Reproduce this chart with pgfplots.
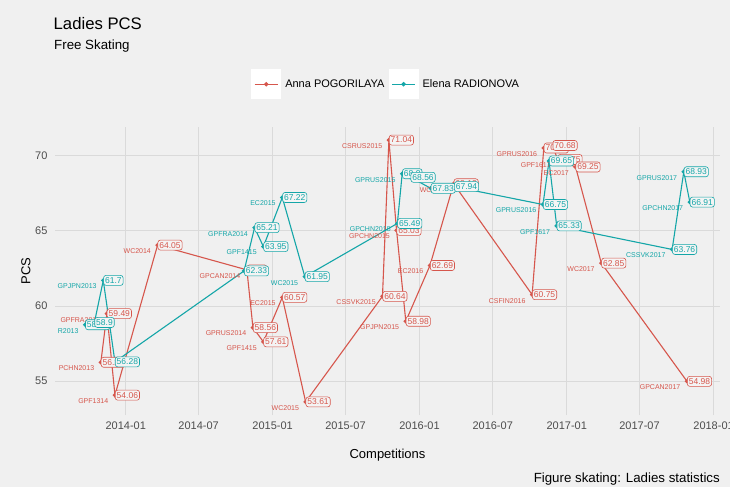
\documentclass[border=0pt]{standalone}
\usepackage{pgfplots}
\pgfplotsset{compat=1.18}
\usepackage{pgfplotstable}
\usepackage{fontspec}
\setmainfont{Liberation Sans}

\definecolor{bgc}{HTML}{F0F0F0}
\definecolor{gridc}{HTML}{DADADA}
\definecolor{boxc}{HTML}{F4F4F4}
\definecolor{anna}{HTML}{D6564C}
\definecolor{elena}{HTML}{14A6A8}
\definecolor{ticktxt}{HTML}{4D4D4D}

% d = days since 2014-01-01, pcs = free skating PCS
\pgfplotstableread{
d pcs name
-62 56.25 PCHN2013
-47 59.49 GPFRA2013
-27 54.06 GPF1314
79 64.05 WC2014
301 62.40 GPCAN2014
316 58.56 GPRUS2014
342 57.61 GPF1415
389 60.57 EC2015
447 53.61 WC2015
638 60.64 CSSVK2015
654 71.04 CSRUS2015
673 65.03 GPCHN2015
696 58.98 GPJPN2015
756 62.69 EC2016
815 68.13 WC2016
1010 60.75 CSFIN2016
1039 70.51 GPRUS2016
1061 70.68 {}
1073 69.75 GPF1617
1118 69.25 EC2017
1182 62.85 WC2017
1395 54.98 GPCAN2017
}\annadata

\pgfplotstableread{
d pcs name
-101 58.75 R2013
-78 58.90 {}
-56 61.70 GPJPN2013
-27 56.28 {}
294 62.33 {}
320 65.21 GPFRA2014
342 63.95 GPF1415
389 67.22 EC2015
445 61.95 WC2015
675 65.49 GPCHN2015
687 68.80 GPRUS2015
708 68.56 {}
758 67.83 {}
816 67.94 {}
1037 66.75 GPRUS2016
1052 69.65 {}
1071 65.33 GPF1617
1358 63.76 CSSVK2017
1387 68.93 GPRUS2017
1402 66.91 GPCHN2017
}\elenadata

\begin{document}
\begin{tikzpicture}
\fill[bgc] (-55pt,-72pt) rectangle (675pt,415pt);
\begin{axis}[
    scale only axis, width=665pt, height=288pt,
    xmin=-176, xmax=1477,
    ymin=52.74, ymax=71.91,
    xtick={0,181,365,546,730,912,1096,1277,1461},
    xticklabels={2014-01,2014-07,2015-01,2015-07,2016-01,2016-07,2017-01,2017-07,2018-01},
    ytick={55,60,65,70},
    grid=major,
    major grid style={draw=gridc, line width=0.7pt},
    axis line style={draw=none},
    major tick style={draw=none},
    tick label style={font=\fontsize{11}{13}\selectfont, text=ticktxt},
    /pgf/number format/assume math mode=true,
    yticklabel style={xshift=-4pt},
    xticklabel style={yshift=-3pt},
    legend columns=2,
    legend cell align=left,
    legend style={at={(axis description cs:0.2947,1.1486)}, anchor=west,
        draw=none, fill=none, inner sep=0pt,
        font=\fontsize{11}{13}\selectfont,
        /tikz/column sep=4pt, nodes={inner sep=0pt}},
    legend image code/.code={
        \fill[white] (0pt,-14.5pt) rectangle (29pt,14.5pt);
        \draw[mark repeat=2,mark phase=2,#1] plot coordinates {(3pt,0pt) (14.5pt,0pt) (26pt,0pt)};
    },
]

\addplot[anna, line width=1.1pt, mark=*, mark size=1.6pt] table[x=d, y=pcs] {\annadata};
\addlegendentry{Anna POGORILAYA}
\addplot[elena, line width=1.1pt, mark=*, mark size=1.6pt] table[x=d, y=pcs] {\elenadata};
\addlegendentry{Elena RADIONOVA}

% competition names
\addplot[draw=none, forget plot, nodes near coords, point meta=explicit symbolic,
    nodes near coords style={anchor=east, xshift=-6pt, yshift=-6pt, inner sep=0.5pt,
        font=\fontsize{7}{8}\selectfont, text=anna}]
    table[x=d, y=pcs, meta=name] {\annadata};
\addplot[draw=none, forget plot, nodes near coords, point meta=explicit symbolic,
    nodes near coords style={anchor=east, xshift=-6pt, yshift=-6pt, inner sep=0.5pt,
        font=\fontsize{7}{8}\selectfont, text=elena}]
    table[x=d, y=pcs, meta=name] {\elenadata};

% value labels
\addplot[draw=none, forget plot, nodes near coords,
    nodes near coords style={anchor=west, draw=anna, fill=boxc, text=anna,
        rounded corners=2.5pt, line width=0.6pt, inner xsep=1.5pt, inner ysep=2pt,
        font=\fontsize{8.5}{9}\selectfont}]
    table[x=d, y=pcs] {\annadata};
\addplot[draw=none, forget plot, nodes near coords,
    nodes near coords style={anchor=west, draw=elena, fill=boxc, text=elena,
        rounded corners=2.5pt, line width=0.6pt, inner xsep=1.5pt, inner ysep=2pt,
        font=\fontsize{8.5}{9}\selectfont}]
    table[x=d, y=pcs] {\elenadata};
\end{axis}

\node[anchor=base west, inner sep=0pt, font=\fontsize{16.7}{20}\selectfont] at (-1.5pt,385.7pt) {Ladies PCS};
\node[anchor=base west, inner sep=0pt, font=\fontsize{13.3}{16}\selectfont] at (-1pt,365pt) {Free Skating};
\node[rotate=90, inner sep=0pt, font=\fontsize{13}{15}\selectfont] at (-29pt,144pt) {PCS};
\node[anchor=base, inner sep=0pt, font=\fontsize{13}{15}\selectfont] at (332.5pt,-43.5pt) {Competitions};
\node[anchor=base east, inner sep=0pt, font=\fontsize{13.3}{16}\selectfont] at (665pt,-67.5pt) {Figure skating: Ladies statistics};

\pgfresetboundingbox
\useasboundingbox (-55pt,-72pt) rectangle (675pt,415pt);
\end{tikzpicture}
\end{document}
